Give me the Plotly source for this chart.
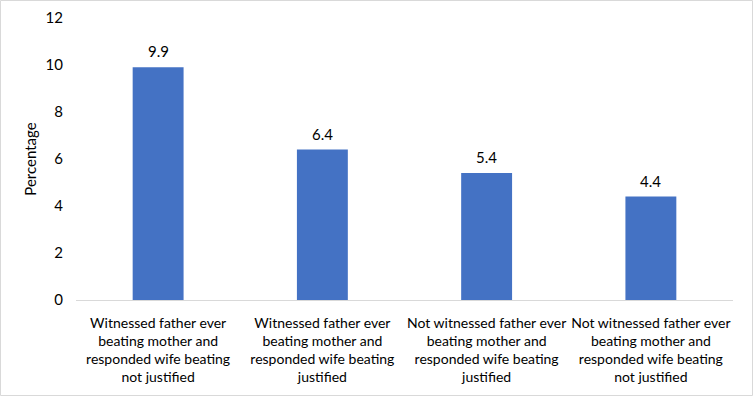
import plotly.graph_objects as go

categories = [
    "Witnessed father ever<br>beating mother and<br>responded wife beating<br>not justified",
    "Witnessed father ever<br>beating mother and<br>responded wife beating<br>justified",
    "Not witnessed father ever<br>beating mother and<br>responded wife beating<br>justified",
    "Not witnessed father ever<br>beating mother and<br>responded wife beating<br>not justified",
]
values = [9.9, 6.4, 5.4, 4.4]
value_labels = ["9.9", "6.4", "5.4", "4.4"]
y_ticks = [0, 2, 4, 6, 8, 10, 12]

FONT = "Lato, Carlito, 'Liberation Sans', sans-serif"

fig = go.Figure(go.Bar(
    x=categories, y=values, width=0.31,
    marker=dict(color="#4472c4", line=dict(width=0)),
    cliponaxis=False, hoverinfo="skip",
))

for c, v, t in zip(categories, values, value_labels):
    fig.add_annotation(x=c, y=v, text=t, showarrow=False, yanchor="bottom",
                       yshift=5, font=dict(size=15, color="#000000", family=FONT))

fig.update_layout(
    width=753, height=396,
    margin=dict(l=76, r=20, t=18, b=96),
    paper_bgcolor="white", plot_bgcolor="white",
    font=dict(family=FONT, size=15, color="#000000"),
    showlegend=False,
    yaxis=dict(
        range=[0, 12], tickvals=y_ticks, showgrid=False, zeroline=False,
        showline=False, ticks="", tickfont=dict(size=15, color="#000000"),
        title=dict(text="Percentage", font=dict(size=15), standoff=5),
        automargin=False, ticklabelstandoff=12,
    ),
    xaxis=dict(
        showline=True, linecolor="#d9d9d9", linewidth=1, ticks="",
        tickfont=dict(size=14, color="#000000"), tickangle=0,
        automargin=False, ticklabelstandoff=10,
    ),
    shapes=[dict(type="rect", xref="paper", yref="paper",
                 x0=-75.5/657, x1=1+19.5/657, y0=-95.5/282, y1=1+17.5/282,
                 line=dict(color="#d9d9d9", width=1))],
)

fig.write_html("out.html", config={"displayModeBar": False},
               post_script="document.body.style.margin='0';document.body.style.overflow='hidden';")
